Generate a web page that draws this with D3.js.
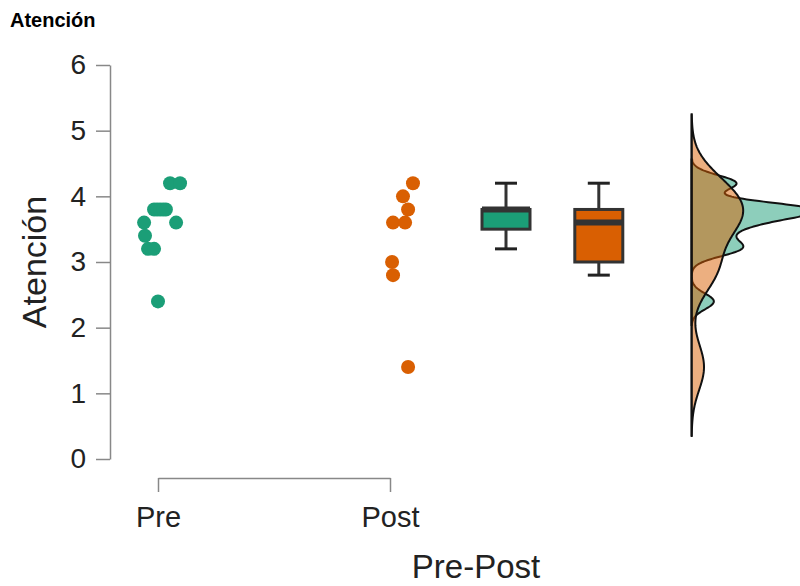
<!DOCTYPE html>
<html>
<head>
<meta charset="utf-8">
<script src="https://cdn.jsdelivr.net/npm/d3@7"></script>
<style>
  body { margin: 0; background: #fff; }
  svg { display: block; font-family: "Liberation Sans", Arial, sans-serif; }
</style>
</head>
<body>
<div id="chart"></div>
<script>
// data
var categories = ["Pre", "Post"];
var preValues  = [4.2, 4.2, 3.8, 3.8, 3.8, 3.8, 3.8, 3.6, 3.6, 3.4, 3.2, 3.2, 2.4];
var preJitter  = [0.052, 0.095, -0.017, -0.004, 0.009, 0.022, 0.034, -0.06, 0.078, -0.056, -0.043, -0.017, 0];
var postValues = [4.2, 4.0, 3.8, 3.6, 3.6, 3.0, 2.8, 1.4];
var postJitter = [0.099, 0.056, 0.078, 0.013, 0.065, 0.009, 0.013, 0.078];

// box summaries (Pre, Post)
var boxQ1     = [3.5, 3.0];
var boxMedian = [3.8, 3.6];
var boxQ3     = [3.8, 3.8];
var whiskLow  = [3.2, 2.8];
var whiskHigh = [4.2, 4.2];

var bandwidths = [0.12, 0.35];
var yTicks = [0, 1, 2, 3, 4, 5, 6];

var colors = ["#1b9e77", "#d95f02"];
var groups = [
  {name: categories[0], values: preValues, jitter: preJitter},
  {name: categories[1], values: postValues, jitter: postJitter}
];

var width = 800, height = 586;

var svg = d3.select("#chart").append("svg")
  .attr("width", width)
  .attr("height", height);

var y = d3.scaleLinear().domain([0, 6]).range([459, 65]);
var x = d3.scaleLinear().domain([1, 2]).range([158, 390]);
var boxPos = [2.5, 2.9],
    densPos = 3.3,
    boxW = 48;

// title
svg.append("text")
  .attr("x", 10).attr("y", 27)
  .style("font-size", "20px").style("font-weight", "bold")
  .text("Atención");

// y axis
var yAxis = svg.append("g")
  .attr("transform", "translate(110,0)")
  .call(d3.axisLeft(y).tickValues(yTicks).tickFormat(d3.format("d"))
    .tickSize(14).tickSizeOuter(0).tickPadding(10));
yAxis.select(".domain").attr("stroke", "#888").attr("stroke-width", 1.5);
yAxis.selectAll(".tick line").attr("stroke", "#888").attr("stroke-width", 1.5);
yAxis.selectAll(".tick text")
  .attr("fill", "#222")
  .style("font-size", "28px")
  .style("font-family", "Liberation Sans, Arial, sans-serif");

svg.append("text")
  .attr("transform", "translate(46,262) rotate(-90)")
  .attr("text-anchor", "middle")
  .style("font-size", "34px").attr("fill", "#222")
  .text("Atención");

// x axis (bracket style)
var xAxis = svg.append("g")
  .attr("transform", "translate(0,478)")
  .call(d3.axisBottom(x).tickValues([1, 2]).tickFormat(function(d){ return categories[d - 1]; })
    .tickSize(14).tickSizeOuter(0).tickPadding(14));
xAxis.select(".domain").attr("stroke", "#888").attr("stroke-width", 1.5);
xAxis.selectAll(".tick line").attr("stroke", "#888").attr("stroke-width", 1.5);
xAxis.selectAll(".tick text")
  .attr("fill", "#222")
  .style("font-size", "29px")
  .style("font-family", "Liberation Sans, Arial, sans-serif");

svg.append("text")
  .attr("x", 476).attr("y", 578)
  .attr("text-anchor", "middle")
  .style("font-size", "33px").attr("fill", "#222")
  .text("Pre-Post");

// points
groups.forEach(function(g, gi) {
  svg.append("g").selectAll("circle")
    .data(g.values)
    .enter()
    .append("circle")
    .attr("cx", function(d, i){ return x(gi + 1 + g.jitter[i]); })
    .attr("cy", function(d){ return y(d); })
    .attr("r", 7)
    .style("fill", colors[gi]);
});

// boxplots
groups.forEach(function(g, gi) {
  var cx = x(boxPos[gi]);
  var b = svg.append("g");
  b.append("line")
    .attr("x1", cx).attr("x2", cx)
    .attr("y1", y(whiskHigh[gi])).attr("y2", y(whiskLow[gi]))
    .attr("stroke", "#333").attr("stroke-width", 3);
  [whiskHigh[gi], whiskLow[gi]].forEach(function(v) {
    b.append("line")
      .attr("x1", cx - 11).attr("x2", cx + 11)
      .attr("y1", y(v)).attr("y2", y(v))
      .attr("stroke", "#222").attr("stroke-width", 3);
  });
  b.append("rect")
    .attr("x", cx - boxW / 2).attr("width", boxW)
    .attr("y", y(boxQ3[gi])).attr("height", y(boxQ1[gi]) - y(boxQ3[gi]))
    .attr("fill", colors[gi]).attr("stroke", "#333").attr("stroke-width", 3);
  b.append("line")
    .attr("x1", cx - boxW / 2).attr("x2", cx + boxW / 2)
    .attr("y1", y(boxMedian[gi])).attr("y2", y(boxMedian[gi]))
    .attr("stroke", "#333").attr("stroke-width", 6);
});

// densities (gaussian kde)
function kde(values, h, lo, hi, n) {
  var pts = d3.range(n).map(function(i){ return lo + (hi - lo) * i / (n - 1); });
  var c = 1 / (values.length * h * Math.sqrt(2 * Math.PI));
  return pts.map(function(t) {
    var s = d3.sum(values, function(v){ var u = (t - v) / h; return Math.exp(-0.5 * u * u); });
    return [t, s * c];
  });
}

var x0 = x(densPos);
var dx = d3.scaleLinear().domain([0, 1]).range([x0, x0 + 87]);

var dens = groups.map(function(g, gi) {
  var h = bandwidths[gi];
  return kde(g.values, h, d3.min(g.values) - 3 * h, d3.max(g.values) + 3 * h, 300);
});

var area = d3.area()
  .y(function(d){ return y(d[0]); })
  .x0(x0)
  .x1(function(d){ return dx(d[1]); });

dens.forEach(function(d, gi) {
  svg.append("path")
    .datum(d)
    .attr("d", area)
    .attr("fill", colors[gi])
    .attr("fill-opacity", 0.5)
    .attr("stroke", "#111")
    .attr("stroke-width", 2);
});

var lo = d3.min(dens, function(d){ return d[0][0]; }),
    hi = d3.max(dens, function(d){ return d[d.length - 1][0]; });
svg.append("line")
  .attr("x1", x0).attr("x2", x0)
  .attr("y1", y(hi)).attr("y2", y(lo))
  .attr("stroke", "#111").attr("stroke-width", 1.8);
</script>
</body>
</html>
